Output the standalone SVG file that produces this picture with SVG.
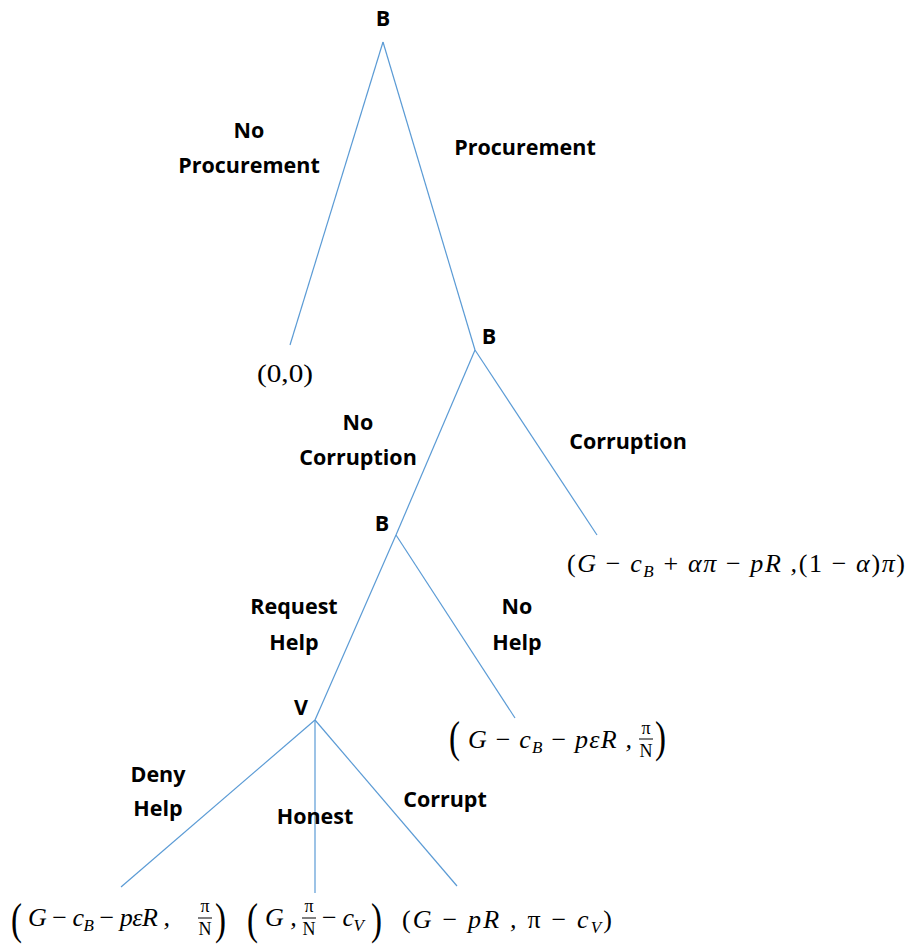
<svg xmlns="http://www.w3.org/2000/svg" width="912" height="952" viewBox="0 0 912 952">
<style>
.e{stroke:#5b9bd5;stroke-width:1.2;fill:none}
.lbl{font-family:"Open Sans","Liberation Sans",sans-serif;font-weight:bold;font-size:21.5px;fill:#000;text-anchor:middle}
.m{font-family:"Liberation Serif","DejaVu Serif",serif;font-style:italic;font-size:26px;fill:#000}
.u{font-style:normal}
.s{font-size:17px}
.fr{font-family:"Liberation Serif","DejaVu Serif",serif;font-size:18px;fill:#000;text-anchor:middle}
.bp{font-family:"Liberation Serif","DejaVu Serif",serif;font-size:44px;fill:#000}
.bar{stroke:#000;stroke-width:1}
</style>
<rect width="912" height="952" fill="#fff"/>
<g id="connectors">
<line class="e" x1="383" y1="42" x2="290" y2="345"/>
<line class="e" x1="383" y1="42" x2="475" y2="350"/>
<line class="e" x1="475" y1="350" x2="396" y2="535"/>
<line class="e" x1="475" y1="350" x2="597" y2="535"/>
<line class="e" x1="396" y1="535" x2="315" y2="720"/>
<line class="e" x1="396" y1="535" x2="515" y2="718"/>
<line class="e" x1="315" y1="720" x2="121" y2="887"/>
<line class="e" x1="315" y1="720" x2="315" y2="893"/>
<line class="e" x1="315" y1="720" x2="457" y2="886"/>
</g>
<g id="edge-labels">
<text class="lbl" x="249" y="138">No</text>
<text class="lbl" x="249" y="173">Procurement</text>
<text class="lbl" x="525" y="155">Procurement</text>
<text class="lbl" x="358" y="430">No</text>
<text class="lbl" x="358" y="465">Corruption</text>
<text class="lbl" x="628" y="449">Corruption</text>
<text class="lbl" x="294" y="614">Request</text>
<text class="lbl" x="294" y="650">Help</text>
<text class="lbl" x="517" y="614">No</text>
<text class="lbl" x="517" y="650">Help</text>
<text class="lbl" x="158" y="782">Deny</text>
<text class="lbl" x="158" y="816">Help</text>
<text class="lbl" x="315" y="824">Honest</text>
<text class="lbl" x="445" y="807">Corrupt</text>
</g>
<g id="node-root"><text class="lbl" x="383" y="26">B</text></g>
<g id="node-b2"><text class="lbl" x="489" y="344">B</text></g>
<g id="node-b3"><text class="lbl" x="382" y="531">B</text></g>
<g id="node-v"><text class="lbl" x="301" y="715">V</text></g>
<g id="payoff-noproc"><text class="m u" x="257" y="382" textLength="56" lengthAdjust="spacingAndGlyphs">(0,0)</text></g>
<g id="payoff-corruption">
<text class="m" x="567" y="572" textLength="338" lengthAdjust="spacing"><tspan class="u">(</tspan>G <tspan class="u">−</tspan> c<tspan class="s" dy="5">B</tspan><tspan dy="-5"> </tspan><tspan class="u">+</tspan> απ <tspan class="u">−</tspan> pR ,<tspan class="u">(1 −</tspan> α<tspan class="u">)</tspan>π<tspan class="u">)</tspan></text>
</g>
<g id="payoff-nohelp">
<text class="bp" transform="translate(449,752) scale(0.75,1)">(</text>
<text class="m" x="468" y="748" textLength="164" lengthAdjust="spacing">G <tspan class="u">−</tspan> c<tspan class="s" dy="5">B</tspan><tspan dy="-5"> </tspan><tspan class="u">−</tspan> pεR ,</text>
<text class="fr" x="646" y="734">π</text>
<line class="bar" x1="639" y1="739" x2="653" y2="739"/>
<text class="fr" x="646" y="757">N</text>
<text class="bp" transform="translate(655,752) scale(0.75,1)">)</text>
</g>
<g id="payoff-deny">
<text class="bp" transform="translate(11,934) scale(0.75,1)">(</text>
<text class="m" x="28" y="926" font-size="25" textLength="142" lengthAdjust="spacing">G <tspan class="u">−</tspan> c<tspan class="s" dy="5">B</tspan><tspan dy="-5"> </tspan><tspan class="u">−</tspan> pεR ,</text>
<text class="fr" x="205" y="912">π</text>
<line class="bar" x1="198" y1="918" x2="212" y2="918"/>
<text class="fr" x="205" y="935">N</text>
<text class="bp" transform="translate(215,934) scale(0.75,1)">)</text>
</g>
<g id="payoff-honest">
<text class="bp" transform="translate(247,934) scale(0.75,1)">(</text>
<text class="m" x="265" y="926" font-size="25">G ,</text>
<text class="fr" x="309" y="912">π</text>
<line class="bar" x1="302" y1="918" x2="316" y2="918"/>
<text class="fr" x="309" y="935">N</text>
<text class="m" x="322" y="926" font-size="25" textLength="42" lengthAdjust="spacing"><tspan class="u">−</tspan> c<tspan class="s" dy="5">V</tspan></text>
<text class="bp" transform="translate(371,934) scale(0.75,1)">)</text>
</g>
<g id="payoff-corrupt">
<text class="m" x="402" y="928" textLength="210" lengthAdjust="spacing"><tspan class="u">(</tspan>G <tspan class="u">−</tspan> pR ,  <tspan class="u">π −</tspan> c<tspan class="s" dy="5">V</tspan><tspan class="u" dy="-5">)</tspan></text>
</g>
</svg>
